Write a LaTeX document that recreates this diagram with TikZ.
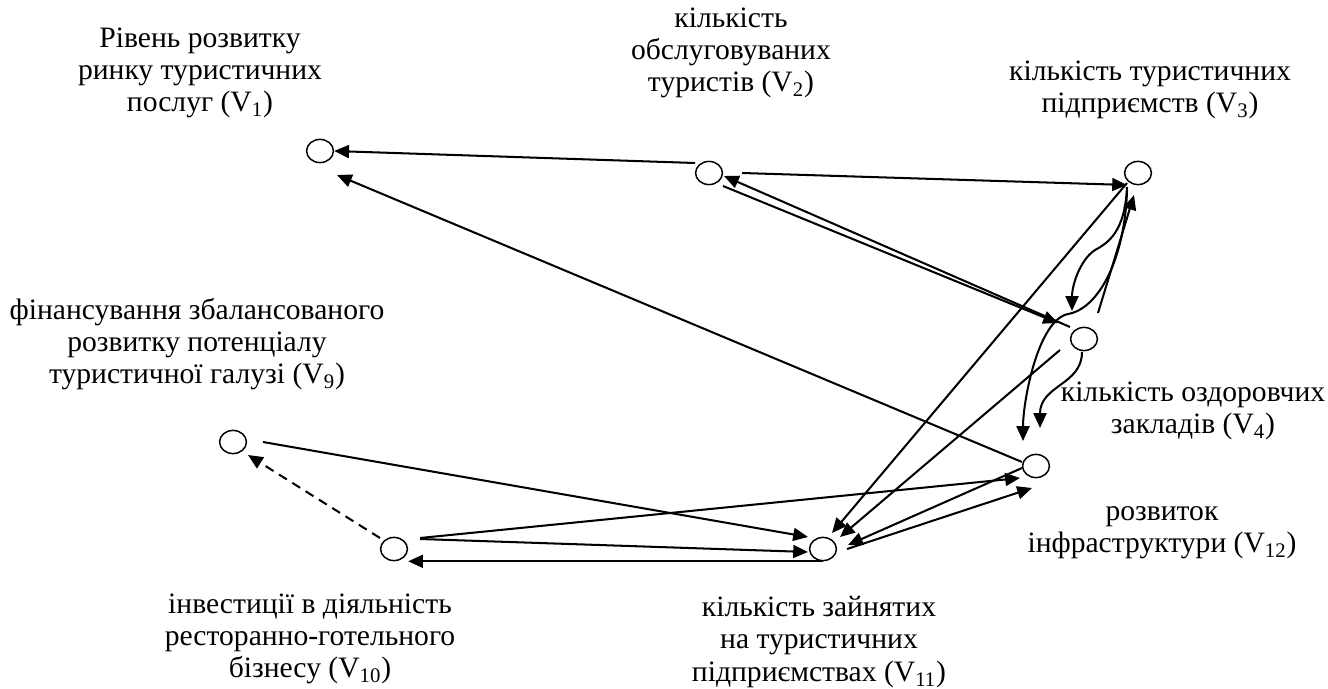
\documentclass[tikz,border=0pt]{standalone}
\usepackage{fontspec}
\setmainfont{Liberation Serif}
\usetikzlibrary{arrows.meta, calc, shapes.geometric}

\begin{document}
\begin{tikzpicture}[x=0.019cm, y=-0.019cm,
  vert/.style={draw, ellipse, line width=0.8pt, minimum width=0.51cm, minimum height=0.44cm, inner sep=0pt},
  lbl/.style={align=center, inner sep=0pt, font=\fontsize{16}{17.5}\selectfont},
  arr/.style={-{Triangle[length=8pt, width=7pt]}, line width=1.1pt}
]
  \useasboundingbox (0,0) rectangle (1328,689);

  % vertices
  \node[vert] (v1) at (320,151) {};
  \node[vert] (v2) at (709,173) {};
  \node[vert] (v3) at (1138,173) {};
  \node[vert] (v4) at (1084,339) {};
  \node[vert] (v12) at (1036,466) {};
  \node[vert] (v11) at (823,549) {};
  \node[vert] (v10) at (394,549) {};
  \node[vert] (v9) at (233,442) {};

  % labels
  \node[lbl] (l1) at (200,73) {Рівень розвитку\\ринку туристичних\\послуг (V\textsubscript{1})};
  \node[lbl] (l2) at (731,53) {кількість\\обслуговуваних\\туристів (V\textsubscript{2})};
  \node[lbl] (l3) at (1150,90) {кількість туристичних\\підприємств (V\textsubscript{3})};
  \node[lbl] (l9) at (197,344) {фінансування збалансованого\\розвитку потенціалу\\туристичної галузі (V\textsubscript{9})};
  \node[lbl] (l4) at (1193,411) {кількість оздоровчих\\закладів (V\textsubscript{4})};
  \node[lbl] (l12) at (1162,533) {розвиток\\інфраструктури (V\textsubscript{12})};
  \node[lbl] (l10) at (310,639) {інвестиції в діяльність\\ресторанно-готельного\\бізнесу (V\textsubscript{10})};
  \node[lbl] (l11) at (819,642) {кількість зайнятих\\на туристичних\\підприємствах (V\textsubscript{11})};

  % arcs
  \draw[arr] ($(v2)+(-14,-10)$) -- (v1.east);
  \draw[arr] ($(v12)+(-14,-4)$) -- ($(v1)+(17,24)$);
  \draw[arr] ($(v2)+(33,0)$) -- ($(v3)+(-11,12)$);
  \draw[arr] ($(v2)+(14,13)$) -- ($(v4)+(-26,-16)$);
  \draw[arr] ($(v4)+(-14,-12)$) -- ($(v2)+(15,3)$);
  \draw[arr] ($(v3)+(-11,14)$) .. controls +(-2,45) and +(13,-7) .. ($(v4)+(11,-89)$)
    .. controls +(-15,10) and +(0,-26) .. ($(v4)+(-12,-28)$);
  \draw[arr] ($(v3)+(-11,17)$) .. controls +(-2,70) and +(30,-5) .. ($(v4)+(-16,-25)$)
    .. controls +(-30,6) and +(0,-40) .. ($(v12)+(-13,-25)$);
  \draw[arr] ($(v4)+(14,-26)$) -- ($(v3)+(-4,22)$);
  \draw[arr] ($(v4)+(-2,13)$) .. controls +(0,33) and +(0,-43) .. ($(v12)+(4,-38)$);
  \draw[arr] ($(v3)+(-11,10)$) -- ($(v11)+(9,-16)$);
  \draw[arr] ($(v4)+(-24,11)$) -- ($(v11)+(17,-12)$);
  \draw[arr] ($(v12)+(-14,2)$) -- ($(v11)+(25,-4)$);
  \draw[arr] ($(v11)+(24,0)$) -- ($(v12)+(-4,22)$);
  \draw[arr] ($(v10)+(26,-11)$) -- ($(v12)+(-16,12)$);
  \draw[arr] ($(v10)+(26,-10)$) -- ($(v11)+(-15,3)$);
  \draw[arr] ($(v9)+(30,0)$) -- ($(v11)+(-15,-12)$);
  \draw[arr] (v11.south) -- (v11.south -| v10.east);
  \draw[arr, dash pattern=on 5pt off 3.5pt] ($(v10)+(-14,-11)$) -- ($(v9)+(15,13)$);
\end{tikzpicture}
\end{document}
